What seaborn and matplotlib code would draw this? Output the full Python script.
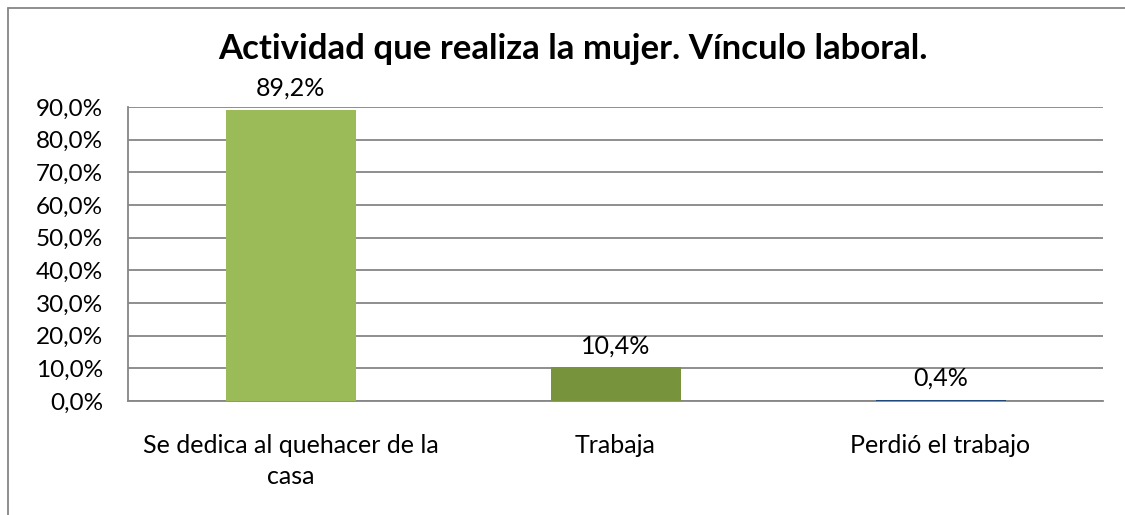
import matplotlib
matplotlib.use("Agg")
import matplotlib.pyplot as plt
from matplotlib.lines import Line2D
import seaborn as sns
import pandas as pd

categories = ["Se dedica al quehacer de la\ncasa", "Trabaja", "Perdió el trabajo"]
values = [89.2, 10.4, 0.4]
colors = ["#9BBB59", "#77933C", "#1F497D"]
yticks = [0, 10, 20, 30, 40, 50, 60, 70, 80, 90]
title = "Actividad que realiza la mujer. Vínculo laboral."


def pct(v):
    return f"{v:.1f}%".replace(".", ",")


def main():
    sns.set_style("white")
    plt.rcParams["font.family"] = ["Lato", "DejaVu Sans"]
    plt.rcParams["text.color"] = "black"
    plt.rcParams["xtick.color"] = "black"
    plt.rcParams["ytick.color"] = "black"

    df = pd.DataFrame({"cat": categories, "val": values})

    fig = plt.figure(figsize=(11.25, 5.15), dpi=100)
    ax = fig.add_axes([128 / 1125, 1 - 401 / 515, (1103 - 128) / 1125, (401 - 107) / 515])

    sns.barplot(data=df, x="cat", y="val", hue="cat", palette=colors,
                width=0.4, legend=False, ax=ax, saturation=1, linewidth=0)

    ax.set_ylim(0, 90)
    ax.set_yticks(yticks)
    ax.set_yticklabels([pct(t) for t in yticks])
    ax.yaxis.grid(True, color="#868686", linewidth=1.3)
    ax.set_axisbelow(True)
    ax.tick_params(axis="y", length=0, pad=18, labelsize=17.5)
    ax.tick_params(axis="x", length=0, pad=24, labelsize=18)
    for lab in ax.get_xticklabels():
        lab.set_linespacing(1.4)
    ax.set_xlabel("")
    ax.set_ylabel("")

    for side in ["top", "right"]:
        ax.spines[side].set_visible(False)
    for side in ["left", "bottom"]:
        ax.spines[side].set_color("#868686")
        ax.spines[side].set_linewidth(1.3)

    # keep the tiny bar visible above the axis line
    for bar in ax.patches:
        bar.set_zorder(3)

    for bars in ax.containers:
        ax.bar_label(bars, labels=[pct(b.get_height()) for b in bars],
                     padding=7, fontsize=18)

    fig.text(573 / 1125, 1 - 49 / 515, title, ha="center", va="center",
             fontsize=25, fontweight="bold")

    # outer frame (only top and left edges visible)
    y_top = 1 - 8 / 515
    x_left = 8 / 1125
    fig.add_artist(Line2D([x_left, 1], [y_top, y_top], transform=fig.transFigure,
                          color="#868686", linewidth=1.3))
    fig.add_artist(Line2D([x_left, x_left], [0, y_top], transform=fig.transFigure,
                          color="#868686", linewidth=1.3))

    fig.savefig("out.png", dpi=100)


if __name__ == "__main__":
    main()
